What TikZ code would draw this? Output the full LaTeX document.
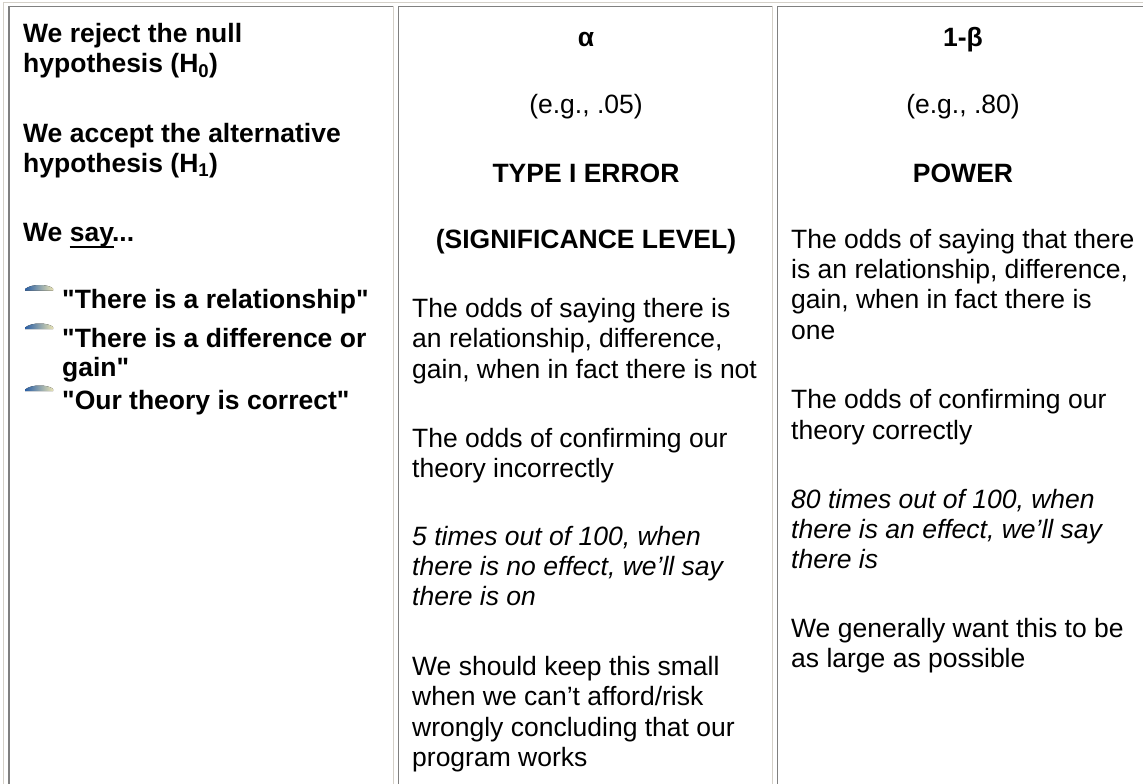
\documentclass[tikz,border=0pt]{standalone}
\usepackage{fontspec}
\setmainfont{Liberation Sans}
\definecolor{dk}{HTML}{808080}
\definecolor{lt}{HTML}{D4D0C8}
\definecolor{bblue}{HTML}{2A5FA5}
\definecolor{bcream}{HTML}{E8E2B4}
\newcommand{\dq}{\XeTeXglyph\the\XeTeXcharglyph"22\relax}
\tikzset{
  t/.style={anchor=base west, inner sep=0pt, font=\fontsize{26.5}{30.5}\selectfont},
  tb/.style={t, font=\fontsize{26.5}{30.5}\selectfont\bfseries},
  ti/.style={t, font=\fontsize{26.5}{30.5}\selectfont\itshape},
  c/.style={anchor=base, inner sep=0pt, font=\fontsize{26.5}{30.5}\selectfont},
  cb/.style={c, font=\fontsize{26.5}{30.5}\selectfont\bfseries},
  darkline/.style={draw=dk, line width=1.6pt},
  lightline/.style={draw=lt, line width=1.5pt},
  bul/.style={left color=bblue, right color=bcream, draw=none}
}
\begin{document}
\begin{tikzpicture}[x=1pt,y=-1pt]
\useasboundingbox (0,0) rectangle (1143,784);
\fill[white] (0,0) rectangle (1143,784);
% outer table border
\coordinate (ot1) at (3,2.5); \coordinate (ot2) at (1143,2.5);
\coordinate (ol1) at (3.5,2); \coordinate (ol2) at (3.5,784);
\draw[lightline] (ot1) -- (ot2);
\draw[lightline] (ol1) -- (ol2);
% cell 1
\coordinate (a1) at (9,784); \coordinate (a2) at (9,6.5); \coordinate (a3) at (393,6.5);
\coordinate (a4) at (393.5,6); \coordinate (a5) at (393.5,784);
\draw[darkline] (a1) -- (a2) -- (a3);
\draw[lightline] (a4) -- (a5);
% cell 2
\coordinate (b1) at (398.5,784); \coordinate (b2) at (398.5,6.5); \coordinate (b3) at (772,6.5);
\coordinate (b4) at (772.5,6); \coordinate (b5) at (772.5,784);
\draw[darkline] (b1) -- (b2) -- (b3);
\draw[lightline] (b4) -- (b5);
% cell 3
\coordinate (e1) at (777.5,784); \coordinate (e2) at (777.5,6.5); \coordinate (e3) at (1143,6.5);
\draw[darkline] (e1) -- (e2) -- (e3);

% column 1
\node[tb] (p1a) at (23,43) {We reject the null};
\node[tb] (p1b) at (23,73) {hypothesis (H\textsubscript{0})};
\node[tb] (p2a) at (23,142) {We accept the alternative};
\node[tb] (p2b) at (23,172) {hypothesis (H\textsubscript{1})};
\node[tb] (p3a) at (23,241) {We say...};
\coordinate (u1) at (69.5,246.5); \coordinate (u2) at (113.5,246.5);
\draw[line width=2pt] (u1) -- (u2);
\node[tb] (q1) at (62,308) {\dq There is a relationship\dq};
\node[tb] (q2a) at (62,347.5) {\dq There is a difference or};
\node[tb] (q2b) at (62,376.5) {gain\dq};
\node[tb] (q3) at (62,409) {\dq Our theory is correct\dq};
% bullets
\foreach \yy in {285,323.5,385.5}{
  \fill[bul] (25,\yy+5.5) -- (25,\yy+4) .. controls (29,\yy+1) and (34,\yy) .. (40,\yy) .. controls (46,\yy) and (51,\yy+1.5) .. (53,\yy+3.5) -- (53,\yy+5.5) -- cycle;
}

% column 2
\node[cb] (al) at (586,47) {α};
\node[c] (eg1) at (586,113) {(e.g., .05)};
\node[cb] (ty) at (586,182) {TYPE I ERROR};
\node[cb] (sl) at (586,248) {(SIGNIFICANCE LEVEL)};
\node[t] (m1) at (412,317) {The odds of saying there is};
\node[t] (m2) at (412,347.5) {an relationship, difference,};
\node[t] (m3) at (412,378) {gain, when in fact there is not};
\node[t] (m4) at (412,447) {The odds of confirming our};
\node[t] (m5) at (412,477) {theory incorrectly};
\node[ti] (m6) at (412,545) {5 times out of 100, when};
\node[ti] (m7) at (412,575) {there is no effect, we’ll say};
\node[ti] (m8) at (412,605) {there is on};
\node[t] (m9) at (412,675) {We should keep this small};
\node[t] (m10) at (412,705) {when we can’t afford/risk};
\node[t] (m11) at (412,736) {wrongly concluding that our};
\node[t] (m12) at (412,766) {program works};

% column 3
\node[cb] (be) at (963,47) {1-β};
\node[c] (eg2) at (963,113) {(e.g., .80)};
\node[cb] (pw) at (963,182) {POWER};
\node[t] (r1) at (791,248) {The odds of saying that there};
\node[t] (r2) at (791,278) {is an relationship, difference,};
\node[t] (r3) at (791,308.5) {gain, when in fact there is};
\node[t] (r4) at (791,339) {one};
\node[t] (r5) at (791,408) {The odds of confirming our};
\node[t] (r6) at (791,439) {theory correctly};
\node[ti] (r7) at (791,508) {80 times out of 100, when};
\node[ti] (r8) at (791,538) {there is an effect, we’ll say};
\node[ti] (r9) at (791,568) {there is};
\node[t] (r10) at (791,637) {We generally want this to be};
\node[t] (r11) at (791,667) {as large as possible};
\end{tikzpicture}
\end{document}
